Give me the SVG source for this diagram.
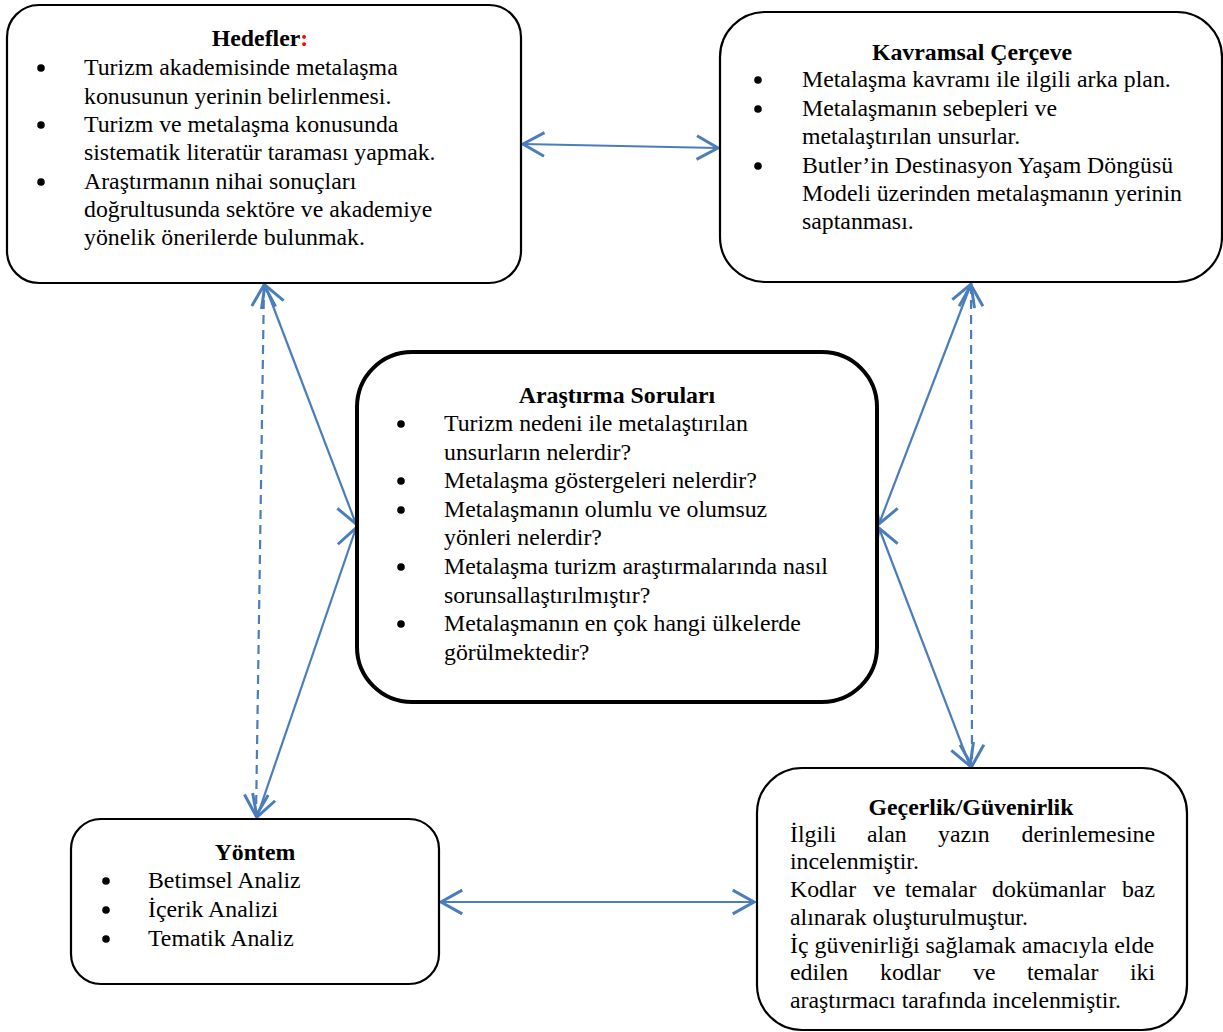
<svg xmlns="http://www.w3.org/2000/svg" width="1223" height="1032" viewBox="0 0 1223 1032">
<style>
.box{fill:#fff;stroke:#000;stroke-width:2.2}
.t{font-family:"Liberation Serif","Times New Roman",serif;font-size:23.8px;fill:#000}
.h{font-family:"Liberation Serif","Times New Roman",serif;font-size:23.8px;font-weight:bold;fill:#000;text-anchor:middle}
.c{fill:none;stroke:#4A7EBB;stroke-width:2.2;marker-start:url(#ah);marker-end:url(#ah)}
.d{stroke-dasharray:9,6}
</style>
<defs>
<marker id="ah" markerUnits="userSpaceOnUse" markerWidth="30" markerHeight="30" viewBox="-20 -12 22 24" refX="0" refY="0" orient="auto-start-reverse">
<path d="M-17,-9.5 L0,0 L-17,9.5" fill="none" stroke="#4A7EBB" stroke-width="2.4"/>
</marker>
</defs>
<rect width="1223" height="1032" fill="#fff"/>
<g id="connectors">
<line class="c" x1="523" y1="144" x2="718" y2="148"/>
<line class="c d" x1="264" y1="285" x2="256" y2="816"/>
<line class="c" x1="265" y1="285" x2="356" y2="524"/>
<line class="c" x1="356" y1="528" x2="257" y2="817"/>
<line class="c" x1="971" y1="284" x2="879" y2="524"/>
<line class="c d" x1="971" y1="285" x2="972" y2="766"/>
<line class="c" x1="879" y1="528" x2="970" y2="766"/>
<line class="c" x1="441" y1="902" x2="754" y2="902"/>
</g>
<g id="hedefler">
<rect class="box" x="7" y="5" width="514" height="278" rx="32"/>
<text class="h" x="260" y="46">Hedefler<tspan fill="#FF0000">:</tspan></text>
<circle cx="41" cy="68" r="3.8"/><circle cx="41" cy="125" r="3.8"/><circle cx="41" cy="182" r="3.8"/>
<text class="t" x="84" y="75">Turizm akademisinde metalaşma</text>
<text class="t" x="84" y="103.5">konusunun yerinin belirlenmesi.</text>
<text class="t" x="84" y="132">Turizm ve metalaşma konusunda</text>
<text class="t" x="84" y="160">sistematik literatür taraması yapmak.</text>
<text class="t" x="84" y="188.5">Araştırmanın nihai sonuçları</text>
<text class="t" x="84" y="217">doğrultusunda sektöre ve akademiye</text>
<text class="t" x="84" y="245">yönelik önerilerde bulunmak.</text>
</g>
<g id="kavramsal">
<rect class="box" x="720" y="12" width="502" height="270" rx="45"/>
<text class="h" x="972" y="60">Kavramsal Çerçeve</text>
<circle cx="758" cy="80" r="3.8"/><circle cx="758" cy="109" r="3.8"/><circle cx="758" cy="166" r="3.8"/>
<text class="t" x="802" y="87">Metalaşma kavramı ile ilgili arka plan.</text>
<text class="t" x="802" y="116">Metalaşmanın sebepleri ve</text>
<text class="t" x="802" y="144">metalaştırılan unsurlar.</text>
<text class="t" x="802" y="173">Butler’in Destinasyon Yaşam Döngüsü</text>
<text class="t" x="802" y="201">Modeli üzerinden metalaşmanın yerinin</text>
<text class="t" x="802" y="229">saptanması.</text>
</g>
<g id="arastirma">
<rect class="box" x="357" y="352" width="520" height="350" rx="55" style="stroke-width:4"/>
<text class="h" x="617" y="403">Araştırma Soruları</text>
<circle cx="401" cy="424" r="3.8"/><circle cx="401" cy="481" r="3.8"/><circle cx="401" cy="510" r="3.8"/><circle cx="401" cy="567" r="3.8"/><circle cx="401" cy="624" r="3.8"/>
<text class="t" x="444" y="431">Turizm nedeni ile metalaştırılan</text>
<text class="t" x="444" y="460">unsurların nelerdir?</text>
<text class="t" x="444" y="488">Metalaşma göstergeleri nelerdir?</text>
<text class="t" x="444" y="517">Metalaşmanın olumlu ve olumsuz</text>
<text class="t" x="444" y="545">yönleri nelerdir?</text>
<text class="t" x="444" y="574">Metalaşma turizm araştırmalarında nasıl</text>
<text class="t" x="444" y="603">sorunsallaştırılmıştır?</text>
<text class="t" x="444" y="631">Metalaşmanın en çok hangi ülkelerde</text>
<text class="t" x="444" y="660">görülmektedir?</text>
</g>
<g id="yontem">
<rect class="box" x="71" y="819" width="368" height="165" rx="30"/>
<text class="h" x="255" y="860">Yöntem</text>
<circle cx="106" cy="881" r="3.8"/><circle cx="106" cy="910" r="3.8"/><circle cx="106" cy="939" r="3.8"/>
<text class="t" x="148" y="888">Betimsel Analiz</text>
<text class="t" x="148" y="917">İçerik Analizi</text>
<text class="t" x="148" y="946">Tematik Analiz</text>
</g>
<g id="gecerlik">
<rect class="box" x="757" y="768" width="430" height="262" rx="45"/>
<text class="h" x="971" y="815">Geçerlik/Güvenirlik</text>
<text class="t" y="842"><tspan x="790">İlgili</tspan><tspan x="867">alan</tspan><tspan x="938">yazın</tspan><tspan x="1155" text-anchor="end">derinlemesine</tspan></text>
<text class="t" x="790" y="869">incelenmiştir.</text>
<text class="t" y="897"><tspan x="790">Kodlar</tspan><tspan x="873">ve</tspan><tspan x="905">temalar</tspan><tspan x="992">dokümanlar</tspan><tspan x="1155" text-anchor="end">baz</tspan></text>
<text class="t" x="790" y="925">alınarak oluşturulmuştur.</text>
<text class="t" x="790" y="953" textLength="364" lengthAdjust="spacingAndGlyphs">İç güvenirliği sağlamak amacıyla elde</text>
<text class="t" y="980"><tspan x="790">edilen</tspan><tspan x="880">kodlar</tspan><tspan x="973">ve</tspan><tspan x="1027">temalar</tspan><tspan x="1155" text-anchor="end">iki</tspan></text>
<text class="t" x="790" y="1008">araştırmacı tarafında incelenmiştir.</text>
</g>
</svg>
